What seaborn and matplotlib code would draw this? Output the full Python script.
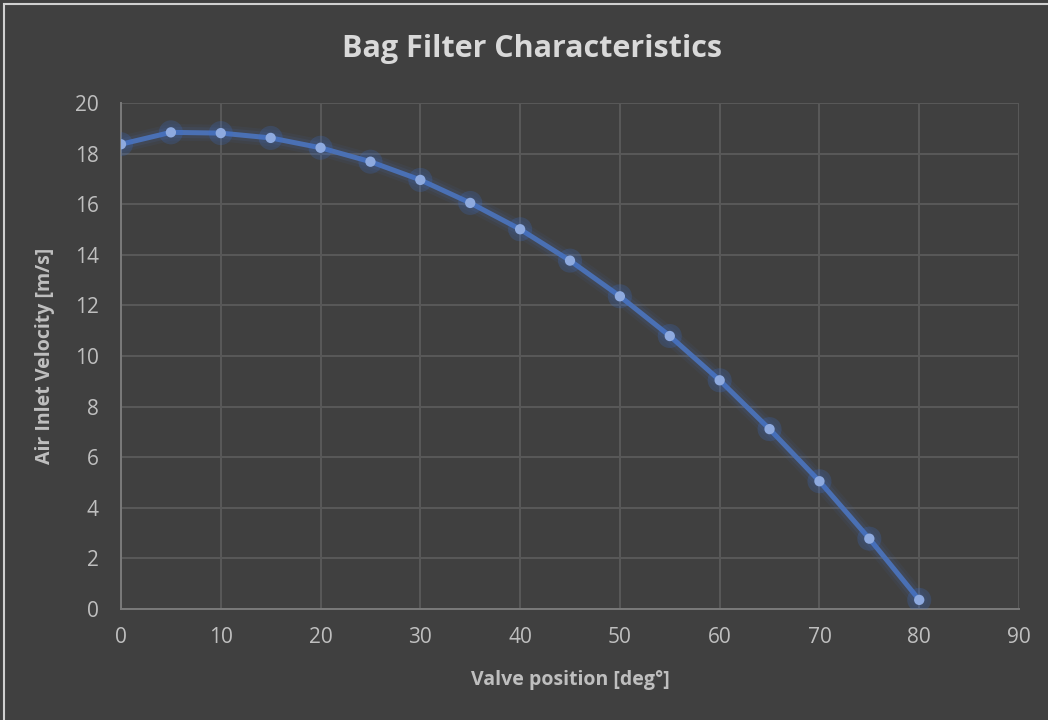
import matplotlib
matplotlib.use("Agg")
import matplotlib.pyplot as plt
import matplotlib.patches as mpatches
import seaborn as sns
import pandas as pd

# Valve opening angle vs. measured inlet air velocity
valve_position = [0, 5, 10, 15, 20, 25, 30, 35, 40, 45, 50, 55, 60, 65, 70, 75, 80]
air_velocity = [18.37, 18.84, 18.81, 18.62, 18.23, 17.68, 16.96, 16.05, 15.01,
                13.77, 12.36, 10.79, 9.04, 7.11, 5.05, 2.78, 0.36]

x_ticks = [0, 10, 20, 30, 40, 50, 60, 70, 80, 90]
y_ticks = [0, 2, 4, 6, 8, 10, 12, 14, 16, 18, 20]

title_text = "Bag Filter Characteristics"
x_label = "Valve position [deg°]"
y_label = "Air Inlet Velocity [m/s]"

BG = "#404040"
GRID = "#595959"
AXIS = "#7a7a7a"
TEXT = "#bfbfbf"
TITLE = "#d9d9d9"
LINE = "#4a70b4"
MARK = "#8eaadf"

sns.set_theme(style="darkgrid")
plt.rcParams["font.family"] = ["Open Sans", "DejaVu Sans"]

df = pd.DataFrame({"pos": valve_position, "vel": air_velocity})

fig = plt.figure(figsize=(10.48, 7.2), dpi=100, facecolor=BG)
W, H = 1048, 720
left, right, top, bottom = 121, 1019, 103, 609
ax = fig.add_axes([left / W, 1 - bottom / H, (right - left) / W, (bottom - top) / H])
ax.set_facecolor(BG)

# soft glow under the curve
for lw, a in [(12, 0.08), (8, 0.12)]:
    sns.lineplot(data=df, x="pos", y="vel", ax=ax, color=LINE, lw=lw, alpha=a,
                 solid_capstyle="round", legend=False, zorder=3)
sns.lineplot(data=df, x="pos", y="vel", ax=ax, color=LINE, lw=3.6,
             solid_capstyle="round", legend=False, zorder=4)
# marker halo and markers
sns.scatterplot(data=df, x="pos", y="vel", ax=ax, s=300, color="#3a6fd0", alpha=0.22,
                edgecolor="none", legend=False, zorder=5)
sns.scatterplot(data=df, x="pos", y="vel", ax=ax, s=55, color=MARK,
                edgecolor="none", legend=False, zorder=6)

ax.set_xlim(0, 90)
ax.set_ylim(0, 20)
ax.set_xticks(x_ticks)
ax.set_yticks(y_ticks)
ax.set_xticklabels([str(t) for t in x_ticks])
ax.set_yticklabels([str(t) for t in y_ticks])
ax.grid(True, color=GRID, lw=1.4)
ax.set_axisbelow(True)
for side in ["top", "right"]:
    ax.spines[side].set_visible(False)
for side in ["left", "bottom"]:
    ax.spines[side].set_visible(True)
    ax.spines[side].set_color(AXIS)
    ax.spines[side].set_linewidth(1.4)
ax.tick_params(axis="both", length=0, colors=TEXT, labelsize=15)
ax.tick_params(axis="x", pad=13)
ax.tick_params(axis="y", pad=16)

ax.set_xlabel(x_label, fontsize=14, fontweight="bold", color=TEXT, labelpad=16)
ax.set_ylabel(y_label, fontsize=14, fontweight="bold", color=TEXT, labelpad=14)

fig.text(532 / W, 1 - 49 / H, title_text, ha="center", va="center",
         fontsize=22, fontweight="bold", color=TITLE)

# outer chart frame
fig.patches.append(mpatches.Rectangle((4 / W, -0.05), 1.1, 1 - 4 / H + 0.05,
                                      transform=fig.transFigure, fill=False,
                                      edgecolor="#d0d0d0", lw=1.5))

fig.savefig("out.png", dpi=100, facecolor=BG)
